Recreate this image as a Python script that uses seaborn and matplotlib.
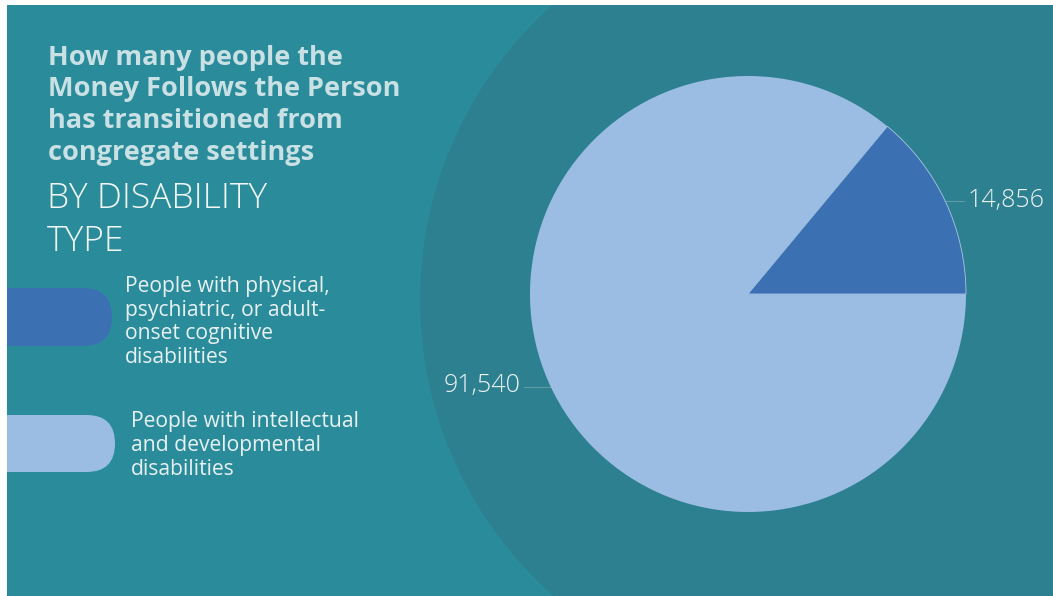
import matplotlib
matplotlib.use("Agg")
import matplotlib.pyplot as plt
import seaborn as sns
import numpy as np
from matplotlib.patches import Rectangle, Circle, FancyBboxPatch

# ---------------- data ----------------
categories = [
    ["People with physical,", "psychiatric, or adult-", "onset cognitive", "disabilities"],
    ["People with intellectual", "and developmental", "disabilities"],
]
values = [14856, 91540]
value_labels = [f"{v:,}" for v in values]
title_lines = ["How many people the", "Money Follows the Person",
               "has transitioned from", "congregate settings"]
subtitle_lines = ["BY DISABILITY", "TYPE"]
slice_colors = ["#3b70b3", "#9bbde3"]

# ---------------- style ----------------
sns.set_theme(style="white")
plt.rcParams['font.family'] = ['Open Sans', 'DejaVu Sans']
palette = sns.color_palette(slice_colors)

W, H = 1053, 596
BG = "#2a8c9b"
DARK = "#2d808f"

fig = plt.figure(figsize=(W / 100, H / 100), dpi=100, facecolor="white")
ax = fig.add_axes([0, 0, 1, 1])
ax.set_xlim(0, W)
ax.set_ylim(0, H)
ax.axis("off")

def Y(y):
    return H - y

bg = Rectangle((7, 0), W - 7, H - 5, facecolor=BG, edgecolor="none", zorder=0)
ax.add_patch(bg)
big = Circle((815, Y(300)), 395, facecolor=DARK, edgecolor="none", zorder=1)
ax.add_patch(big)
big.set_clip_path(bg)

# pie
cx, cy, r = 748, Y(294), 218
wedges, _ = ax.pie(values, colors=palette, startangle=0, counterclock=True,
                   center=(cx, cy), radius=r,
                   wedgeprops=dict(linewidth=0, edgecolor="none"))
for w in wedges:
    w.set_zorder(3)
wedges[0].set_edgecolor("#a9c6e6")
wedges[0].set_linewidth(0.6)
ax.set_xlim(0, W)
ax.set_ylim(0, H)
ax.set_aspect("equal")
ax.axis("off")

for w, lab in zip(wedges, value_labels):
    th = np.deg2rad((w.theta1 + w.theta2) / 2)
    ex, ey = cx + r * np.cos(th), cy + r * np.sin(th)
    if np.cos(th) > 0:
        tx, ha, lx = ex + 22, "left", ex + 19
    else:
        tx, ha, lx = ex - 30, "right", ex - 27
    ax.plot([ex, lx], [ey, ey], color="#5f9aa5", lw=0.8, zorder=2)
    ax.text(tx, ey + 1, lab, ha=ha, va="center", fontsize=18, color="#eef4f5",
            fontweight="light", zorder=4)

# title
for i, line in enumerate(title_lines):
    ax.text(48, Y(65 + i * 31.5), line, fontsize=19.5, fontweight="bold",
            color="#c9e1e4", va="baseline", ha="left", zorder=4)
for i, line in enumerate(subtitle_lines):
    ax.text(47, Y(208 + i * 43), line, fontsize=25.5, fontweight="light",
            color="#f2f6f6", va="baseline", ha="left", zorder=4)

# legend pills
pill_specs = [(288, 346, 112), (415, 472, 115)]
text_specs = [(125, 292, 23.7), (131, 427, 24)]
for (top, bot, right), col, lines, (tx, tb, sp) in zip(pill_specs, palette, categories, text_specs):
    h = bot - top
    p = FancyBboxPatch((-40, Y(bot)), right + 40, h,
                       boxstyle=f"round,pad=0,rounding_size={h/2}",
                       facecolor=col, edgecolor="none", zorder=3)
    ax.add_patch(p)
    p.set_clip_path(bg)
    for j, line in enumerate(lines):
        ax.text(tx, Y(tb + j * sp), line, fontsize=15.2, color="#e8f1f2",
                va="baseline", ha="left", zorder=4)

fig.savefig("out.png", dpi=100, facecolor="white")
